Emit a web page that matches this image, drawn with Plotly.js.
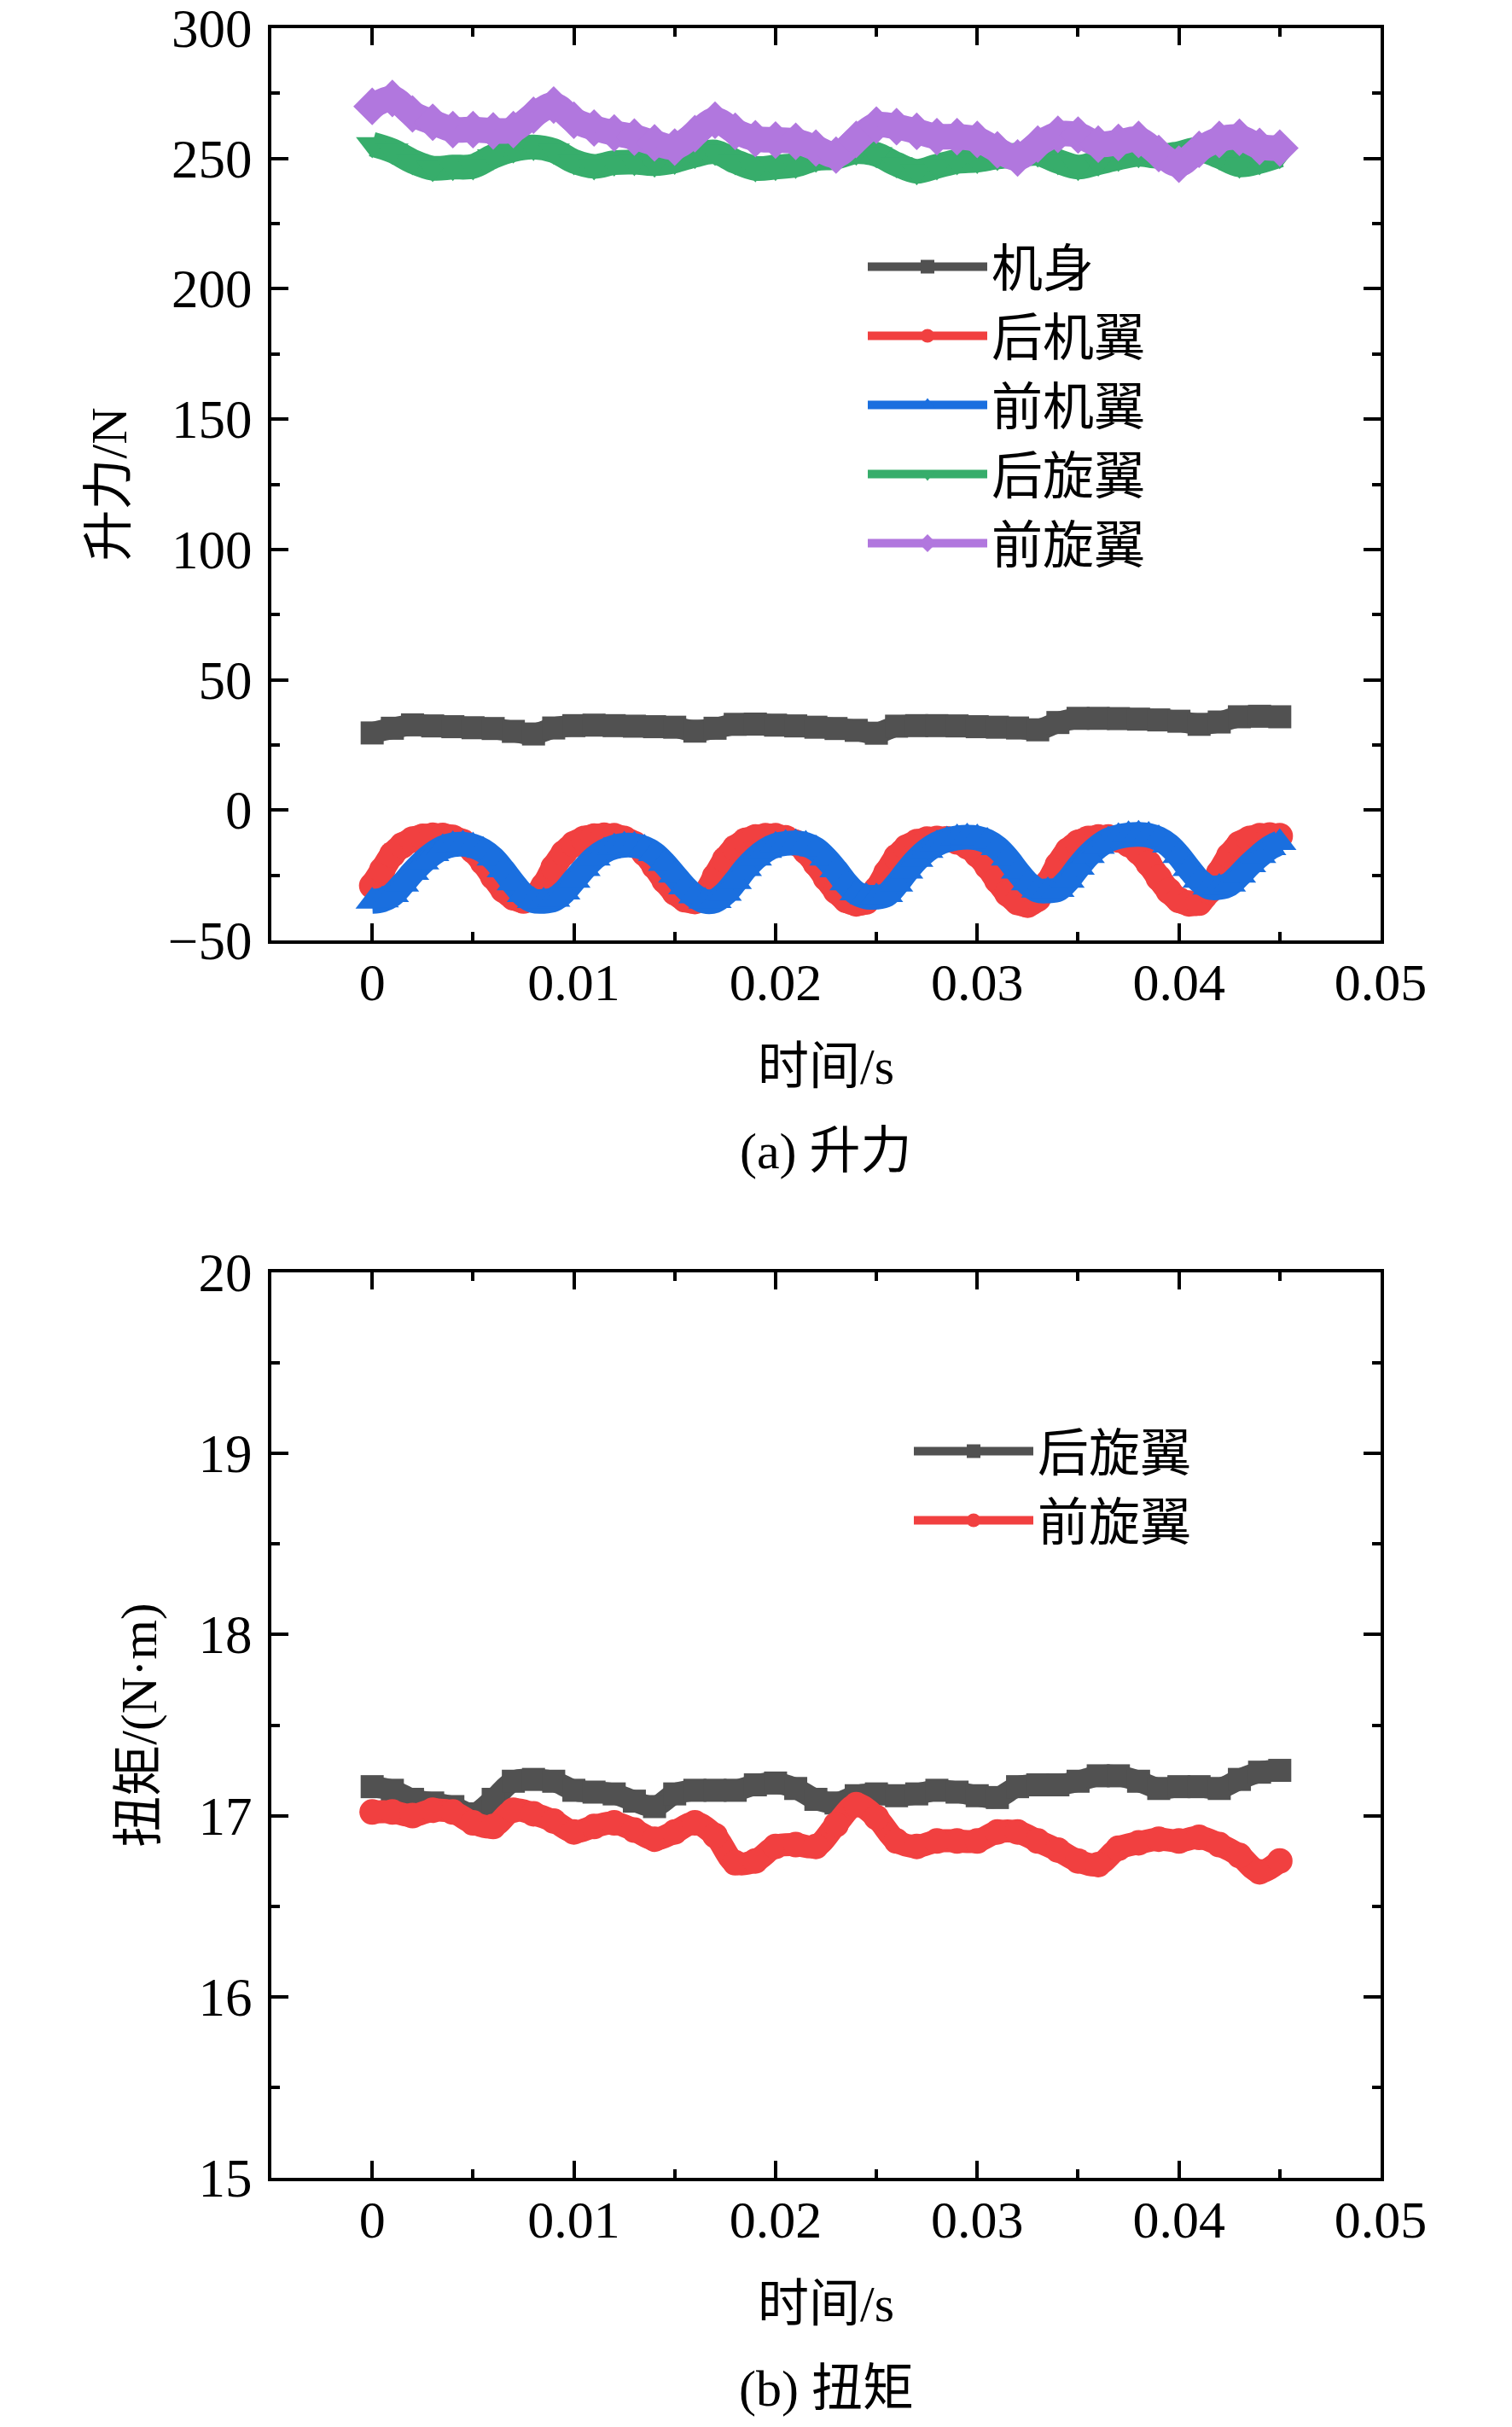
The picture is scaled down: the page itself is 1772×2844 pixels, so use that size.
<!DOCTYPE html>
<html>
<head>
<meta charset="utf-8">
<script src="https://cdn.plot.ly/plotly-3.0.1.min.js"></script>
<style>html,body{margin:0;padding:0;background:#fff;}#chart{width:1772px;height:2844px;}</style>
</head>
<body>
<div id="chart"></div>
<script>
// ---- time grids (s) ----
var tCoarse = [0,0.001,0.002,0.003,0.004,0.005,0.006,0.007,0.008,0.009,0.010,0.011,0.012,0.013,0.014,0.015,0.016,0.017,0.018,0.019,0.020,0.021,0.022,0.023,0.024,0.025,0.026,0.027,0.028,0.029,0.030,0.031,0.032,0.033,0.034,0.035,0.036,0.037,0.038,0.039,0.040,0.041,0.042,0.043,0.044,0.045];
var tFine = [0,0.0005,0.001,0.0015,0.002,0.0025,0.003,0.0035,0.004,0.0045,0.005,0.0055,0.006,0.0065,0.007,0.0075,0.008,0.0085,0.009,0.0095,0.010,0.0105,0.011,0.0115,0.012,0.0125,0.013,0.0135,0.014,0.0145,0.015,0.0155,0.016,0.0165,0.017,0.0175,0.018,0.0185,0.019,0.0195,0.020,0.0205,0.021,0.0215,0.022,0.0225,0.023,0.0235,0.024,0.0245,0.025,0.0255,0.026,0.0265,0.027,0.0275,0.028,0.0285,0.029,0.0295,0.030,0.0305,0.031,0.0315,0.032,0.0325,0.033,0.0335,0.034,0.0345,0.035,0.0355,0.036,0.0365,0.037,0.0375,0.038,0.0385,0.039,0.0395,0.040,0.0405,0.041,0.0415,0.042,0.0425,0.043,0.0435,0.044,0.0445,0.045];

// ---- (a) lift, N ----
var liftBody = [29.6,31.4,32.7,32.3,32.0,31.6,31.3,30.2,29.2,31.5,32.4,32.6,32.4,32.2,32.0,31.8,30.3,31.4,32.9,33.0,32.6,32.3,31.8,31.3,30.6,29.5,32.2,32.4,32.4,32.3,32.0,31.8,31.5,30.8,33.6,35.2,35.2,35.1,34.9,34.6,34.1,32.9,33.8,35.8,36.0,35.8];
var liftRearWing = [-29,-23,-17,-13.5,-11.3,-10.2,-9.8,-9.9,-10.6,-12.3,-15.5,-20,-25.5,-30.5,-33.5,-34.7,-33.5,-29,-22,-16.5,-13,-11,-10.1,-9.8,-10,-11,-13,-16.5,-21.5,-27,-31.5,-34.2,-34.9,-32,-25.5,-19,-14.5,-11.8,-10.5,-10,-10,-10.8,-12.5,-15.8,-20.5,-26,-31,-34.5,-35.8,-35,-30.5,-24,-18,-14.3,-12.3,-11.3,-11,-11.2,-12,-13.8,-17,-21.5,-27,-32,-35.3,-36.3,-34,-28,-21,-15.5,-12.5,-11,-10.5,-10.5,-11.3,-13,-16,-20.5,-26,-31,-34.5,-35.8,-35.5,-31,-24,-17.5,-13,-11,-10,-9.7,-10];
var liftFrontWing = [-35,-34.5,-32.5,-28.5,-24,-20,-16.8,-14.5,-13.3,-13.1,-13.8,-15.5,-18.5,-23,-28,-32.5,-34.8,-35,-34.3,-31.5,-27,-22.5,-18.5,-15.8,-14.2,-13.5,-13.6,-14.6,-16.8,-20.5,-25,-29.5,-33,-35,-34.8,-32,-27.5,-22.5,-18.5,-15.5,-13.6,-12.8,-12.6,-13.2,-15,-18.5,-23,-28,-31.8,-33.3,-33.4,-32.5,-28.5,-23.5,-19,-15.5,-13,-11.5,-10.7,-10.4,-10.7,-12,-14.5,-18.5,-23.5,-28,-30.8,-31,-30.5,-27,-22,-17.5,-14,-11.5,-10.2,-9.5,-9.3,-9.7,-11,-13.5,-17.5,-22.5,-27,-29.6,-29.7,-28.5,-25,-21,-17.5,-14.5,-12.5];
var liftRearRotor = [255.5,253.0,248.9,246.3,246.7,247.0,250.8,253.4,254.4,253.0,248.9,247.0,248.4,248.6,248.0,249.1,251.3,252.5,248.9,246.2,246.7,247.5,249.9,250.5,252.6,251.6,247.8,245.1,247.0,248.9,249.4,250.6,251.3,251.9,248.9,246.7,248.4,250.2,251.6,250.8,251.9,253.5,250.8,247.6,248.9,251.3];
var liftFrontRotor = [270,273,267.1,263.9,261.1,261.1,260.6,261.1,266.6,270.5,264.7,261.7,259.8,258.2,256.0,254.4,259.5,264.7,260.4,257.6,257.1,256.6,254.0,251.3,257.3,262.8,262.2,260.4,258.4,258.4,257.3,253.3,250.2,255.5,259.3,259.0,255.5,256.2,257.3,251.9,247.8,253.5,257.3,258.1,254.6,254.0];

// ---- (b) torque, N·m ----
var torqueRearRotor = [17.16,17.14,17.09,17.07,17.05,17.01,17.09,17.19,17.20,17.19,17.14,17.13,17.12,17.08,17.05,17.12,17.14,17.14,17.14,17.17,17.18,17.15,17.09,17.07,17.11,17.12,17.11,17.12,17.14,17.13,17.11,17.10,17.16,17.17,17.17,17.19,17.22,17.22,17.19,17.15,17.16,17.16,17.15,17.20,17.24,17.25];
var torqueFrontRotor = [17.02,17.02,17.00,17.03,17.02,16.96,16.94,17.03,17.01,16.97,16.91,16.94,16.96,16.92,16.87,16.91,16.96,16.89,16.74,16.75,16.83,16.84,16.83,16.95,17.06,16.99,16.86,16.83,16.86,16.86,16.86,16.91,16.91,16.86,16.81,16.75,16.73,16.82,16.85,16.87,16.86,16.88,16.84,16.78,16.69,16.75];

var namesLift = ['机身','后机翼','前机翼','后旋翼','前旋翼'];
var namesTorque = ['后旋翼','前旋翼'];
var xTicks = [0,0.01,0.02,0.03,0.04,0.05];
var xTickText = ['0','0.01','0.02','0.03','0.04','0.05'];
var yTicksLift = [-50,0,50,100,150,200,250,300];
var yTicksTorque = [15,16,17,18,19,20];

var C = {gray:'#515151', red:'#F14040', blue:'#1A6FDF', green:'#37AD6B', purple:'#B177DE'};
var FONT = 'Liberation Serif, Times New Roman, Noto Sans CJK SC, serif';

function band(x, y, name, color, symbol, lw, ms, xa, ya, leg){
  return {x:x, y:y, name:name, type:'scatter', mode:'lines+markers',
    line:{color:color, width:lw, shape:'spline', smoothing:1},
    marker:{color:color, symbol:symbol, size:ms, line:{width:0}},
    xaxis:xa, yaxis:ya, legend:leg, hoverinfo:'skip'};
}

var data = [
  band(tCoarse, liftBody, namesLift[0], C.gray, 'square', 25, 27, 'x', 'y', 'legend'),
  band(tFine, liftRearWing, namesLift[1], C.red, 'circle', 29, 31, 'x', 'y', 'legend'),
  band(tFine, liftFrontWing, namesLift[2], C.blue, 'triangle-up', 29, 34, 'x', 'y', 'legend'),
  band(tCoarse, liftRearRotor, namesLift[3], C.green, 'triangle-down', 29, 33, 'x', 'y', 'legend'),
  band(tCoarse, liftFrontRotor, namesLift[4], C.purple, 'diamond', 30, 34, 'x', 'y', 'legend'),
  band(tCoarse, torqueRearRotor, namesTorque[0], C.gray, 'square', 25, 27, 'x2', 'y2', 'legend2'),
  band(tCoarse, torqueFrontRotor, namesTorque[1], C.red, 'circle', 27, 30, 'x2', 'y2', 'legend2')
];

function xax(anchor){
  return {domain:[318/1772, 1618/1772], anchor:anchor, range:[-0.005, 0.05],
    tickmode:'array', tickvals:xTicks, ticktext:xTickText,
    ticks:'inside', ticklen:20, tickwidth:4, tickcolor:'#000',
    minor:{dtick:0.005, tick0:0, ticks:'inside', ticklen:10, tickwidth:4, tickcolor:'#000', showgrid:false},
    showline:true, linewidth:4, linecolor:'#000', mirror:'allticks',
    showgrid:false, zeroline:false, tickfont:{family:FONT, size:62, color:'#000'},
    ticklabelstandoff:-8, ticklabeloverflow:'allow',
    title:{text:'时间/s', font:{family:FONT, size:60, color:'#000'}, standoff:45}};
}
function yax(anchor, dom, range, ticks, minor, title){
  return {domain:dom, anchor:anchor, range:range, tickmode:'array', tickvals:ticks,
    ticks:'inside', ticklen:20, tickwidth:4, tickcolor:'#000',
    minor:{dtick:minor, tick0:ticks[0], ticks:'inside', ticklen:10, tickwidth:4, tickcolor:'#000', showgrid:false},
    showline:true, linewidth:4, linecolor:'#000', mirror:'allticks',
    showgrid:false, zeroline:false, tickfont:{family:FONT, size:63, color:'#000'},
    ticklabelstandoff:6, ticklabeloverflow:'allow',
    title:{text:title, font:{family:FONT, size:60, color:'#000'}, standoff:30}};
}

var layout = {
  width:1772, height:2844, margin:{l:0, r:0, t:0, b:0},
  paper_bgcolor:'#fff', plot_bgcolor:'#fff',
  font:{family:FONT, color:'#000'},
  xaxis: xax('y'),
  yaxis: yax('x', [1-1102/2844, 1-33/2844], [-50, 300.0001], yTicksLift, 25, '升力/N'),
  xaxis2: xax('y2'),
  yaxis2: yax('x2', [1-2552/2844, 1-1491/2844], [15, 20.00001], yTicksTorque, 0.5, '扭矩/(N·m)'),
  legend:{x:1012/1772, y:1-267/2844, xanchor:'left', yanchor:'top', bgcolor:'rgba(0,0,0,0)',
    font:{family:FONT, size:60, color:'#000'}, itemwidth:140, tracegroupgap:0, itemclick:false},
  legend2:{x:1066/1772, y:1-1655/2844, xanchor:'left', yanchor:'top', bgcolor:'rgba(0,0,0,0)',
    font:{family:FONT, size:60, color:'#000'}, itemwidth:140, tracegroupgap:0, itemclick:false},
  annotations:[
    {text:'(a) 升力', xref:'paper', yref:'paper', x:968/1772, y:1-1349/2844, xanchor:'center', yanchor:'middle', showarrow:false, font:{family:FONT, size:60, color:'#000'}},
    {text:'(b) 扭矩', xref:'paper', yref:'paper', x:968/1772, y:1-2799/2844, xanchor:'center', yanchor:'middle', showarrow:false, font:{family:FONT, size:60, color:'#000'}}
  ]
};

Plotly.newPlot('chart', data, layout, {staticPlot:true, displayModeBar:false});
</script>
</body>
</html>
